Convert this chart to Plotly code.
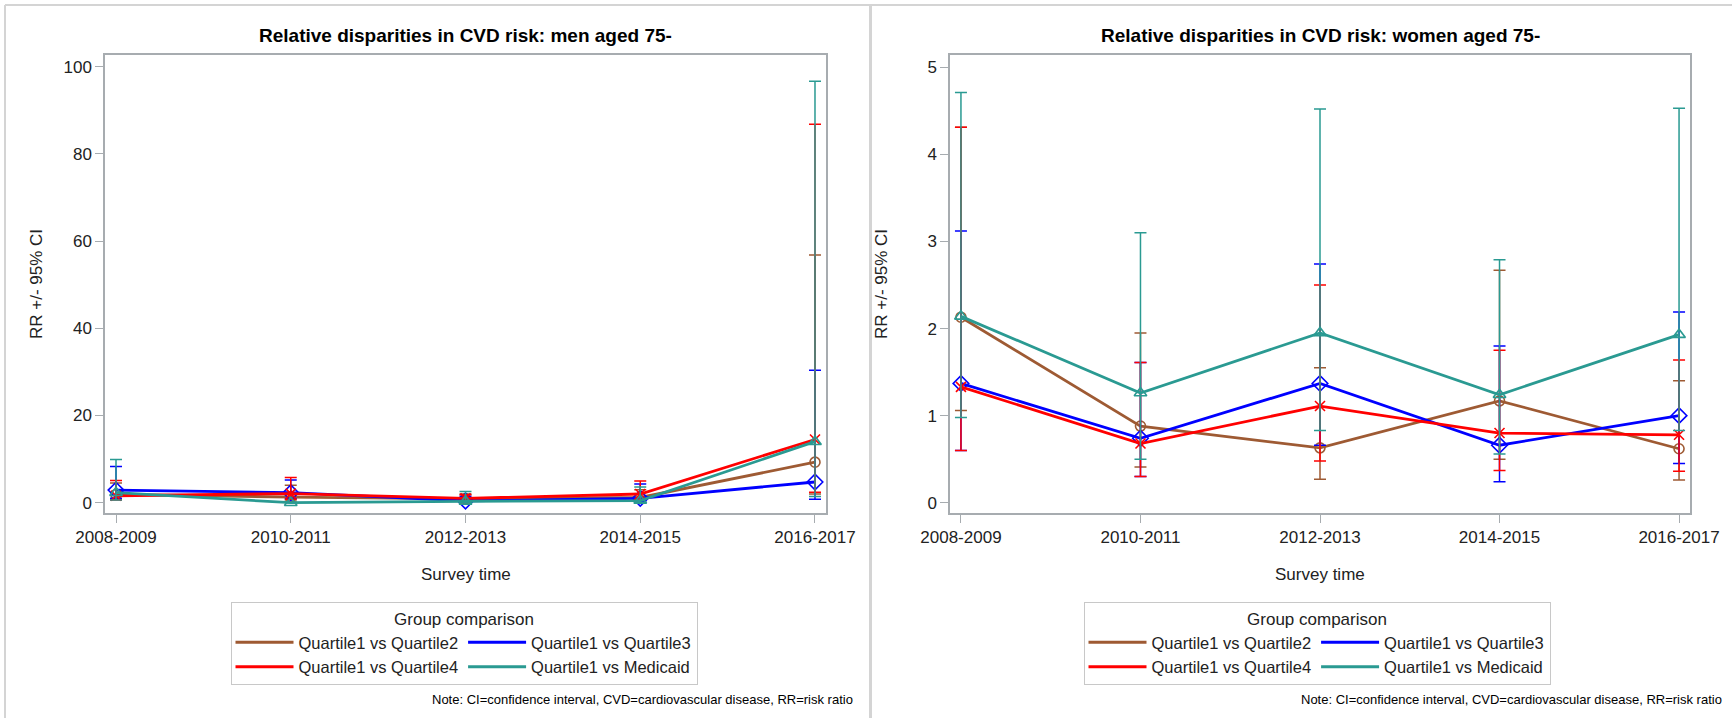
import plotly.graph_objects as go

# Survey periods on the x axis
categories = ["2008-2009", "2010-2011", "2012-2013", "2014-2015", "2016-2017"]
series_names = ["Quartile1 vs Quartile2", "Quartile1 vs Quartile3",
                "Quartile1 vs Quartile4", "Quartile1 vs Medicaid"]

# Men aged 75-: risk ratio, lower and upper 95% CI
men_q2 = [1.9, 1.3, 0.9, 1.2, 9.3]
men_q2_lo = [0.8, 0.4, 0.3, 0.4, 2.0]
men_q2_hi = [4.5, 4.0, 2.0, 3.0, 56.8]
men_q3 = [2.9, 2.3, 0.4, 1.0, 4.75]
men_q3_lo = [1.0, 0.9, 0.1, 0.3, 0.8]
men_q3_hi = [8.3, 5.2, 1.5, 4.3, 30.4]
men_q4 = [1.6, 2.1, 1.0, 2.0, 14.5]
men_q4_lo = [0.6, 0.8, 0.4, 0.8, 2.4]
men_q4_hi = [5.1, 5.8, 1.8, 5.0, 86.8]
men_mcd = [2.3, 0.0, 0.3, 0.5, 14.0]
men_mcd_lo = [0.6, 0.0, 0.03, 0.1, 1.4]
men_mcd_hi = [9.9, 0.0, 2.6, 3.6, 96.7]

# Women aged 75-: risk ratio, lower and upper 95% CI
wom_q2 = [2.13, 0.88, 0.63, 1.17, 0.62]
wom_q2_lo = [1.06, 0.41, 0.27, 0.50, 0.26]
wom_q2_hi = [4.31, 1.95, 1.55, 2.67, 1.40]
wom_q3 = [1.37, 0.74, 1.37, 0.66, 1.00]
wom_q3_lo = [0.60, 0.30, 0.66, 0.24, 0.45]
wom_q3_hi = [3.12, 1.61, 2.74, 1.80, 2.19]
wom_q4 = [1.33, 0.68, 1.11, 0.80, 0.78]
wom_q4_lo = [0.60, 0.30, 0.48, 0.37, 0.36]
wom_q4_hi = [4.31, 1.61, 2.50, 1.75, 1.64]
wom_mcd = [2.14, 1.26, 1.95, 1.24, 1.93]
wom_mcd_lo = [0.98, 0.50, 0.83, 0.56, 0.83]
wom_mcd_hi = [4.71, 3.10, 4.52, 2.79, 4.53]

men_ticks = [0, 20, 40, 60, 80, 100]
wom_ticks = [0, 1, 2, 3, 4, 5]

W, H = 1732, 718
FONT = "Liberation Sans, Arial, sans-serif"
TXT = "#222222"
AXIS = "#A7ACB0"
BORDER = "#D4D4D4"

colors = ["#9E5A33", "#0000FF", "#FF0000", "#2A9A92"]
symbols = ["circle-open", "diamond-open", "x-thin-open", "triangle-up-open"]
msizes = [10, 12, 10, 11]
groups = ["colA", "colB", "colA", "colB"]

men = [(men_q2, men_q2_lo, men_q2_hi), (men_q3, men_q3_lo, men_q3_hi),
       (men_q4, men_q4_lo, men_q4_hi), (men_mcd, men_mcd_lo, men_mcd_hi)]
wom = [(wom_q2, wom_q2_lo, wom_q2_hi), (wom_q3, wom_q3_lo, wom_q3_hi),
       (wom_q4, wom_q4_lo, wom_q4_hi), (wom_mcd, wom_mcd_lo, wom_mcd_hi)]


def px(x):
    return x / W


def py(y):
    return 1 - y / H


fig = go.Figure()

panels = [("x", "y", men, "legend"), ("x2", "y2", wom, "legend2")]
for xa, ya, data, leg in panels:
    for i, (rr, lo, hi) in enumerate(data):
        fig.add_trace(go.Scatter(
            x=categories, y=rr, xaxis=xa, yaxis=ya, mode="lines+markers",
            line=dict(color=colors[i], width=2.8),
            marker=dict(symbol=symbols[i], size=msizes[i], color=colors[i],
                        line=dict(color=colors[i], width=1.6)),
            error_y=dict(type="data", symmetric=False,
                         array=[h - v for h, v in zip(hi, rr)],
                         arrayminus=[v - l for v, l in zip(rr, lo)],
                         color=colors[i], thickness=1.5, width=6),
            showlegend=False, hoverinfo="x+y"))
    # line-only legend entries
    for i, name in enumerate(series_names):
        fig.add_trace(go.Scatter(
            x=[None], y=[None], xaxis=xa, yaxis=ya, mode="lines", name=name,
            line=dict(color=colors[i], width=3), legend=leg,
            legendgroup=groups[i] + leg, showlegend=True))

# plot-area pixel boxes
left_box = (105, 826)
right_box = (950, 1690)
top, bottom = 55, 513

axis_common = dict(showgrid=False, zeroline=False, showline=True, mirror=True,
                   linecolor=AXIS, linewidth=1.5, ticks="outside",
                   tickcolor=AXIS, ticklen=8, tickwidth=1.2, automargin=False,
                   tickfont=dict(family=FONT, size=17, color=TXT))

fig.update_layout(
    template="none",
    width=W, height=H, margin=dict(l=0, r=0, t=0, b=0, autoexpand=False),
    paper_bgcolor="white", plot_bgcolor="white",
    xaxis=dict(domain=[px(left_box[0]), px(left_box[1])], anchor="y",
               range=[-0.063, 4.063], type="category", **axis_common),
    yaxis=dict(domain=[py(bottom), py(top)], anchor="x",
               range=[-2.36, 102.7], tickvals=men_ticks, **axis_common),
    xaxis2=dict(domain=[px(right_box[0]), px(right_box[1])], anchor="y2",
                range=[-0.061, 4.061], type="category", **axis_common),
    yaxis2=dict(domain=[py(bottom), py(top)], anchor="x2",
                range=[-0.118, 5.141], tickvals=wom_ticks, **axis_common),
    showlegend=True,
)

legend_common = dict(orientation="h", traceorder="grouped", tracegroupgap=42,
                     itemwidth=58, bordercolor="#C8C8C8", borderwidth=1,
                     bgcolor="white", xanchor="center", yanchor="top",
                     font=dict(family=FONT, size=16.5, color=TXT),
                     title=dict(text="Group comparison", side="top center",
                                font=dict(family=FONT, size=17, color=TXT)))
fig.update_layout(
    legend=dict(x=px(464), y=py(602), **legend_common),
    legend2=dict(x=px(1317), y=py(602), **legend_common),
)

annotations = []
for (x0, x1), title in [(left_box, "Relative disparities in CVD risk: men aged 75-"),
                        (right_box, "Relative disparities in CVD risk: women aged 75-")]:
    cx = (x0 + x1) / 2
    annotations.append(dict(text="<b>" + title + "</b>", x=px(cx), y=py(35),
                            xref="paper", yref="paper", showarrow=False,
                            xanchor="center", yanchor="middle",
                            font=dict(family=FONT, size=19, color="#000000")))
    annotations.append(dict(text="Survey time", x=px(cx), y=py(574),
                            xref="paper", yref="paper", showarrow=False,
                            xanchor="center", yanchor="middle",
                            font=dict(family=FONT, size=17, color=TXT)))
    annotations.append(dict(text="RR +/- 95% CI", x=px(x0 - 69), y=py((top + bottom) / 2),
                            xref="paper", yref="paper", showarrow=False, textangle=-90,
                            xanchor="center", yanchor="middle",
                            font=dict(family=FONT, size=17, color=TXT)))
for xr in (855, 1724):
    annotations.append(dict(text="Note: CI=confidence interval, CVD=cardiovascular disease, RR=risk ratio",
                            x=px(xr), y=py(699), xref="paper", yref="paper",
                            showarrow=False, xanchor="right", yanchor="middle",
                            font=dict(family=FONT, size=13, color="#000000")))
fig.update_layout(annotations=annotations)

# panel frames
shapes = [
    dict(type="line", xref="paper", yref="paper", x0=px(5), x1=1, y0=py(5), y1=py(5),
         line=dict(color=BORDER, width=2)),
    dict(type="line", xref="paper", yref="paper", x0=px(5), x1=px(5), y0=py(5), y1=0,
         line=dict(color=BORDER, width=2)),
    dict(type="line", xref="paper", yref="paper", x0=px(870.5), x1=px(870.5), y0=py(5), y1=0,
         line=dict(color=BORDER, width=3)),
]
fig.update_layout(shapes=shapes)

fig.write_html("out.html")
